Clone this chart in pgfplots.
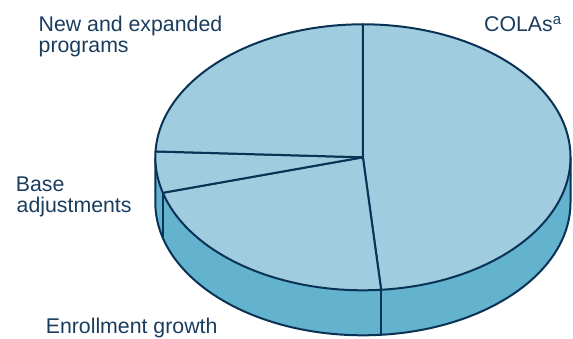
\documentclass[border=0pt]{standalone}
\usepackage{pgfplots}
\pgfplotsset{compat=1.18}
\usepackage{pgfplotstable}
\usepackage{fontspec}
\setmainfont{Liberation Sans}
\definecolor{topcol}{RGB}{159,204,222}
\definecolor{sidecol}{RGB}{99,178,206}
\definecolor{linecol}{RGB}{10,50,85}
\definecolor{txtcol}{RGB}{26,61,94}

\pgfplotstableread{
label value
COLAs 48.6
Enrollment 22.1
Base 5.0
New 24.3
}\piedata

\begin{document}
\begin{tikzpicture}
\pgfplotstablegetelem{0}{value}\of\piedata \let\vA\pgfplotsretval
\pgfplotstablegetelem{1}{value}\of\piedata \let\vB\pgfplotsretval
\pgfplotstablegetelem{2}{value}\of\piedata \let\vC\pgfplotsretval
\pgfplotstablegetelem{3}{value}\of\piedata \let\vD\pgfplotsretval
\pgfmathsetmacro\aA{90}
\pgfmathsetmacro\aB{\aA-3.6*\vA}
\pgfmathsetmacro\aC{\aB-3.6*\vB}
\pgfmathsetmacro\aD{\aC-3.6*\vC}
\pgfmathsetmacro\aE{\aD-3.6*\vD}
\def\rx{207.6bp}
\def\ry{133bp}
\def\dep{45bp}
\useasboundingbox (0,0) rectangle (573bp,339bp);
\begin{axis}[
  scale only axis, width=573bp, height=339bp,
  xmin=0, xmax=573, ymin=0, ymax=339,
  hide axis, clip=false, anchor=south west, at={(0,0)},
]
% side band
\fill[sidecol] (axis cs:362.9,181.7) ++(-180:\rx\space and \ry) arc[start angle=-180,end angle=0,x radius=\rx,y radius=\ry] -- ++(0,-\dep) arc[start angle=0,end angle=-180,x radius=\rx,y radius=\ry] -- cycle;
\draw[linecol, line width=2bp, line join=round] (axis cs:362.9,181.7) ++(-180:\rx\space and \ry) -- ++(0,-\dep) arc[start angle=-180,end angle=0,x radius=\rx,y radius=\ry] -- ++(0,\dep);
\draw[linecol, line width=2bp] (axis cs:362.9,181.7) ++(\aB:\rx\space and \ry) -- ++(0,-\dep);
\draw[linecol, line width=2bp] (axis cs:362.9,181.7) ++(\aC:\rx\space and \ry) -- ++(0,-\dep);
% top slices
\filldraw[fill=topcol, draw=linecol, line width=2bp, line join=round] (axis cs:362.9,181.7) -- ++(\aA:\rx\space and \ry) arc[start angle=\aA,end angle=\aB,x radius=\rx,y radius=\ry] -- cycle;
\filldraw[fill=topcol, draw=linecol, line width=2bp, line join=round] (axis cs:362.9,181.7) -- ++(\aB:\rx\space and \ry) arc[start angle=\aB,end angle=\aC,x radius=\rx,y radius=\ry] -- cycle;
\filldraw[fill=topcol, draw=linecol, line width=2bp, line join=round] (axis cs:362.9,181.7) -- ++(\aC:\rx\space and \ry) arc[start angle=\aC,end angle=\aD,x radius=\rx,y radius=\ry] -- cycle;
\filldraw[fill=topcol, draw=linecol, line width=2bp, line join=round] (axis cs:362.9,181.7) -- ++(\aD:\rx\space and \ry) arc[start angle=\aD,end angle=\aE,x radius=\rx,y radius=\ry] -- cycle;
% labels
\begin{scope}[every node/.style={inner sep=0pt, anchor=base west, text=txtcol, font=\fontsize{21.3bp}{25bp}\selectfont}]
\node at (axis cs:38.5,307.3) {New and expanded};
\node at (axis cs:38.5,286.0) {programs};
\node at (axis cs:484,307.3) {COLAs\textsuperscript{a}};
\node at (axis cs:15.7,147.3) {Base};
\node at (axis cs:16.5,126.7) {adjustments};
\node at (axis cs:45.6,5.7) {Enrollment growth};
\end{scope}
\end{axis}
\end{tikzpicture}
\end{document}
